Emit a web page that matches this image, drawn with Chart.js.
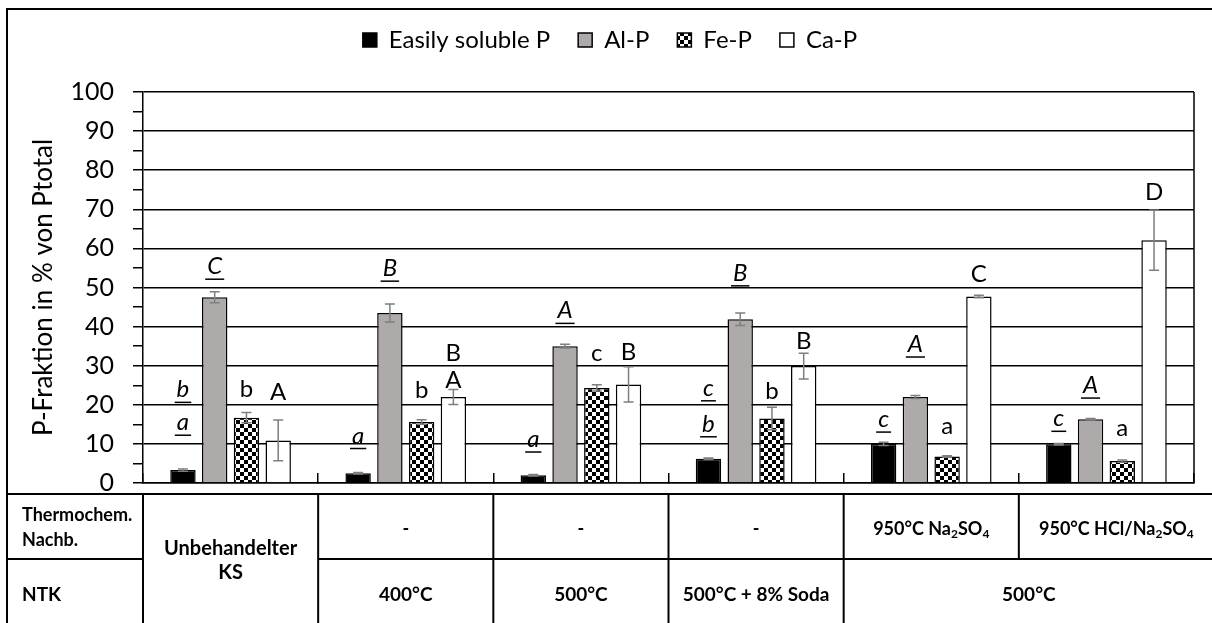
<!DOCTYPE html>
<html>
<head>
<meta charset="utf-8">
<title>P-Fraktionen</title>
<script src="https://cdn.jsdelivr.net/npm/chart.js@4.4.0/dist/chart.umd.min.js"></script>
<style>
	html, body { margin: 0; padding: 0; background: #fff; }
	canvas { display: block; }
</style>
</head>
<body>
<canvas id="p-chart" width="1212" height="623"></canvas>
<script>
'use strict';

// --- data ---
const categories = ['Unbehandelter KS', '400°C', '500°C', '500°C + 8% Soda', '950°C Na2SO4', '950°C HCl/Na2SO4'];
const seriesNames = ['Easily soluble P', 'Al-P', 'Fe-P', 'Ca-P'];

const easilySolubleP = [3.3, 2.5, 2.0, 6.2, 10.0, 9.9];
const alP = [47.5, 43.5, 35.0, 41.9, 22.0, 16.3];
const feP = [16.7, 15.6, 24.3, 16.5, 6.8, 5.6];
const caP = [10.9, 22.0, 25.2, 29.9, 47.7, 62.1];

const easilySolubleErr = [0.3, 0.2, 0.2, 0.2, 0.4, 0.2];
const alErr = [1.4, 2.3, 0.5, 1.6, 0.4, 0.2];
const feErr = [1.3, 0.6, 0.8, 2.9, 0.2, 0.3];
const caErr = [5.2, 1.9, 4.5, 3.3, 0.3, 7.7];

// significance letters (top to bottom where stacked)
const easilySolubleLetters = [['b', 'a'], ['a'], ['a'], ['c', 'b'], ['c'], ['c']];
const alLetters = [['C'], ['B'], ['A'], ['B'], ['A'], ['A']];
const feLetters = [['b'], ['b'], ['c'], ['b'], ['a'], ['a']];
const caLetters = [['A'], ['B', 'A'], ['B'], ['B'], ['C'], ['D']];

const yTickValues = [0, 10, 20, 30, 40, 50, 60, 70, 80, 90, 100];
const yTitle = 'P-Fraktion in % von Ptotal';

// table under the axis
const rowHeaders = [['Thermochem.', 'Nachb.'], ['NTK']];
const firstColumnText = ['Unbehandelter', 'KS'];
const thermochemRow = ['', '-', '-', '-', '950°C Na_2SO_4', '950°C HCl/Na_2SO_4'];
const ntkRow = ['', '400°C', '500°C', '500°C + 8% Soda', '500°C', ''];

// --- placement of the letters (baseline, in axis units) ---
const easilySolubleLetterY = [[21.9, 13.5], [10.1], [9.2], [22.3, 13.1], [14.3], [14.5]];
const alLetterY = [[53.4], [52.9], [42.1], [51.7], [33.5], [23.0]];
const feLetterY = [[22.0], [21.8], [31.2], [21.6], [12.6], [12.0]];
const caLetterY = [[21.2], [31.1, 24.4], [31.4], [34.2], [51.4], [72.4]];

const FONT = 'Lato';

/**
 * Checkerboard fill for Fe-P
 */
function checkerPattern() {
	const tile = document.createElement('canvas');
	tile.width = 8;
	tile.height = 8;
	const t = tile.getContext('2d');
	t.fillStyle = '#fff';
	t.fillRect(0, 0, 8, 8);
	t.fillStyle = '#000';
	t.fillRect(0, 0, 4, 4);
	t.fillRect(4, 4, 4, 4);
	return t.createPattern(tile, 'repeat');
}

/**
 * Text with "_x" subscripts, centred on cx
 */
function drawRichText(ctx, text, cx, cy, size) {
	const parts = [];
	for (let i = 0; i < text.length; i++) {
		if (text[i] === '_') {
			parts.push({ t: text[i + 1], sub: true });
			i++;
		} else if (parts.length && !parts[parts.length - 1].sub) {
			parts[parts.length - 1].t += text[i];
		} else {
			parts.push({ t: text[i], sub: false });
		}
	}
	const big = 'bold ' + size + 'px ' + FONT;
	const small = 'bold ' + Math.round(size * 0.68) + 'px ' + FONT;
	let total = 0;
	parts.forEach(p => {
		ctx.font = p.sub ? small : big;
		p.w = ctx.measureText(p.t).width;
		total += p.w;
	});
	let x = cx - total / 2;
	ctx.textAlign = 'left';
	ctx.textBaseline = 'middle';
	parts.forEach(p => {
		ctx.font = p.sub ? small : big;
		ctx.fillText(p.t, x, p.sub ? cy + size * 0.3 : cy);
		x += p.w;
	});
}

// legend box gets the full band above the plot
const legendBandPlugin = {
	id: 'legendBand',
	afterInit(chart) {
		const legend = chart.legend;
		if (!legend) return;
		const fit = legend.fit;
		legend.fit = function() {
			fit.call(this);
			this.height = 92;
		};
	}
};

const errorBarsPlugin = {
	id: 'errorBars',
	afterDatasetsDraw(chart) {
		const ctx = chart.ctx;
		const y = chart.scales.y;
		ctx.save();
		ctx.strokeStyle = '#7f7f7f';
		ctx.lineWidth = 1.5;
		chart.data.datasets.forEach((ds, i) => {
			chart.getDatasetMeta(i).data.forEach((bar, j) => {
				const err = ds.errors[j];
				const top = y.getPixelForValue(ds.data[j] + err);
				const bottom = y.getPixelForValue(ds.data[j] - err);
				ctx.beginPath();
				ctx.moveTo(bar.x, top);
				ctx.lineTo(bar.x, bottom);
				ctx.moveTo(bar.x - 5, top);
				ctx.lineTo(bar.x + 5, top);
				ctx.moveTo(bar.x - 5, bottom);
				ctx.lineTo(bar.x + 5, bottom);
				ctx.stroke();
			});
		});
		ctx.restore();
	}
};

const lettersPlugin = {
	id: 'letters',
	afterDatasetsDraw(chart) {
		const ctx = chart.ctx;
		const y = chart.scales.y;
		ctx.save();
		ctx.fillStyle = '#000';
		ctx.strokeStyle = '#000';
		ctx.lineWidth = 1.5;
		ctx.textAlign = 'center';
		ctx.textBaseline = 'alphabetic';
		chart.data.datasets.forEach((ds, i) => {
			ctx.font = (ds.underlined ? 'italic ' : '') + '24px ' + FONT;
			chart.getDatasetMeta(i).data.forEach((bar, j) => {
				ds.letters[j].forEach((letter, k) => {
					const base = y.getPixelForValue(ds.letterY[j][k]);
					ctx.fillText(letter, bar.x, base);
					if (ds.underlined) {
						const w = ctx.measureText(letter).width;
						ctx.beginPath();
						ctx.moveTo(bar.x - w / 2 - 2, base + 5);
						ctx.lineTo(bar.x + w / 2 + 2, base + 5);
						ctx.stroke();
					}
				});
			});
		});
		ctx.restore();
	}
};

const frameAndTablePlugin = {
	id: 'frameAndTable',
	afterDraw(chart) {
		const ctx = chart.ctx;
		const area = chart.chartArea;
		const x = chart.scales.x;
		const W = chart.width;
		const H = chart.height;
		const step = x.getPixelForValue(1) - x.getPixelForValue(0);
		const edges = categories.map((c, i) => x.getPixelForValue(i) - step / 2);
		edges.push(W + 2);
		const tTop = area.bottom + 11;
		const tMid = tTop + 65;

		ctx.save();
		ctx.strokeStyle = '#000';

		// plot right border
		ctx.lineWidth = 1.5;
		ctx.beginPath();
		ctx.moveTo(area.right, area.top);
		ctx.lineTo(area.right, area.bottom);
		ctx.stroke();

		// outer frame
		ctx.lineWidth = 2;
		ctx.beginPath();
		ctx.moveTo(7, H);
		ctx.lineTo(7, 9);
		ctx.lineTo(W, 9);
		ctx.stroke();

		// table grid
		ctx.beginPath();
		ctx.moveTo(7, tTop);
		ctx.lineTo(W, tTop);
		ctx.moveTo(7, tMid);
		ctx.lineTo(edges[0], tMid);
		ctx.moveTo(edges[1], tMid);
		ctx.lineTo(W, tMid);
		for (let i = 0; i <= 4; i++) {
			ctx.moveTo(edges[i], tTop);
			ctx.lineTo(edges[i], H);
		}
		ctx.moveTo(edges[5], tTop);
		ctx.lineTo(edges[5], tMid);
		ctx.stroke();

		// table text
		ctx.fillStyle = '#000';
		ctx.textBaseline = 'middle';
		ctx.textAlign = 'left';
		ctx.font = 'bold 18px ' + FONT;
		ctx.fillText(rowHeaders[0][0], 22, tTop + 21);
		ctx.fillText(rowHeaders[0][1], 22, tTop + 46);
		ctx.font = 'bold 19px ' + FONT;
		ctx.fillText(rowHeaders[1][0], 22, tMid + 36);

		const colCenter = i => (edges[i] + edges[i + 1]) / 2;
		ctx.textAlign = 'center';
		ctx.font = 'bold 20px ' + FONT;
		ctx.fillText(firstColumnText[0], colCenter(0), tTop + 55);
		ctx.fillText(firstColumnText[1], colCenter(0), tTop + 79);

		for (let i = 1; i < categories.length; i++) {
			if (thermochemRow[i]) drawRichText(ctx, thermochemRow[i], colCenter(i), tTop + 35, 18);
		}
		for (let i = 1; i < 4; i++) {
			drawRichText(ctx, ntkRow[i], colCenter(i), tMid + 36, 19);
		}
		drawRichText(ctx, ntkRow[4], (edges[4] + edges[6]) / 2, tMid + 36, 19);
		ctx.restore();
	}
};

/**
 * Build the chart
 */
function renderChart() {
	const fePattern = checkerPattern();
	const values = [easilySolubleP, alP, feP, caP];
	const errors = [easilySolubleErr, alErr, feErr, caErr];
	const letters = [easilySolubleLetters, alLetters, feLetters, caLetters];
	const letterY = [easilySolubleLetterY, alLetterY, feLetterY, caLetterY];
	const fills = ['#000000', '#aeaaaa', fePattern, '#ffffff'];

	const datasets = seriesNames.map((name, i) => ({
		label: name,
		data: values[i],
		errors: errors[i],
		letters: letters[i],
		letterY: letterY[i],
		underlined: i < 2,
		backgroundColor: fills[i],
		borderColor: '#000',
		borderWidth: 1.5,
		categoryPercentage: 0.725,
		barPercentage: 0.8
	}));

	new Chart(document.getElementById('p-chart'), {
		type: 'bar',
		data: { labels: categories, datasets: datasets },
		options: {
			responsive: false,
			animation: false,
			devicePixelRatio: 1,
			layout: { padding: { left: 26, right: 18, top: 0, bottom: 0 } },
			plugins: {
				legend: {
					position: 'top',
					labels: {
						font: { family: FONT, size: 24 },
						color: '#000',
						boxWidth: 14,
						boxHeight: 14,
						padding: 28
					}
				},
				tooltip: { enabled: false }
			},
			scales: {
				x: {
					grid: {
						offset: true,
						drawOnChartArea: false,
						tickLength: -10,
						color: '#000',
						lineWidth: 1.5
					},
					border: { color: '#000', width: 1.5 },
					ticks: { display: false },
					afterFit: function(scale) {
						scale.height = 140;
					}
				},
				y: {
					min: 0,
					max: 100,
					ticks: {
						stepSize: 5,
						autoSkip: false,
						padding: 19,
						color: '#000',
						font: { family: FONT, size: 25 },
						callback: v => (yTickValues.includes(v) ? String(v) : '')
					},
					grid: {
						color: c => (c.tick && yTickValues.includes(c.tick.value) ? '#000' : 'rgba(0,0,0,0)'),
						tickColor: '#000',
						tickLength: 10,
						lineWidth: 1.5
					},
					border: { color: '#000', width: 1.5 },
					title: {
						display: true,
						text: yTitle,
						color: '#000',
						font: { family: FONT, size: 26 },
						padding: { top: 2, bottom: 0 }
					},
					afterFit: function(scale) {
						scale.width = 117;
					}
				}
			}
		},
		plugins: [legendBandPlugin, errorBarsPlugin, lettersPlugin, frameAndTablePlugin]
	});
}

Promise.all([
	document.fonts.load('22px ' + FONT),
	document.fonts.load('italic 22px ' + FONT),
	document.fonts.load('bold 18px ' + FONT)
]).then(renderChart, renderChart);
</script>
</body>
</html>
